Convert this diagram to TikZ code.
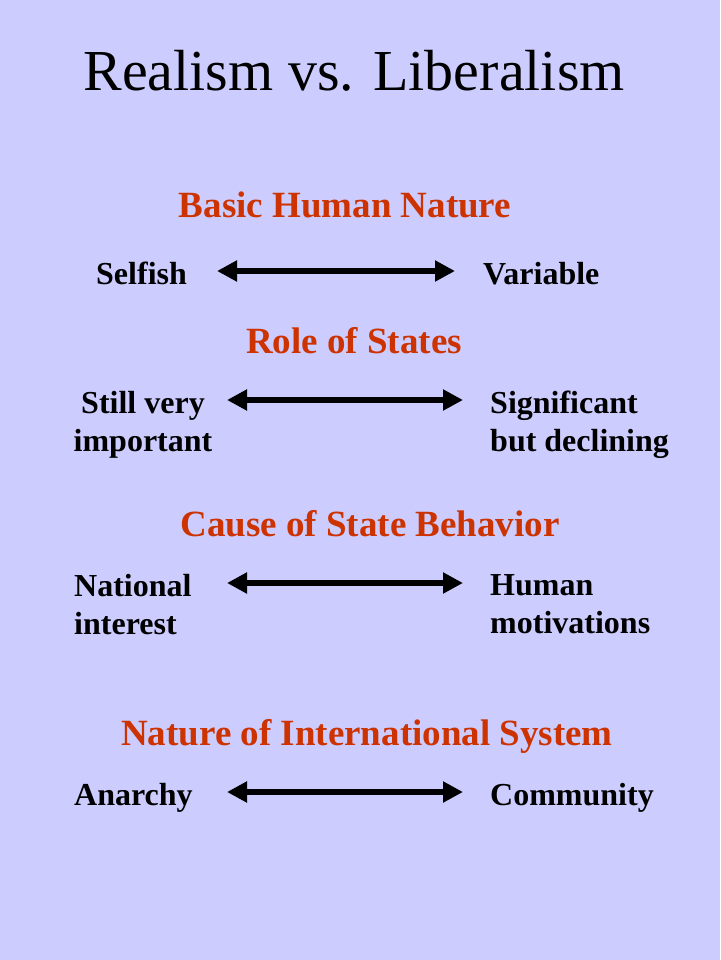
\documentclass[tikz,border=0pt]{standalone}
\usepackage{fontspec}
\setmainfont{Liberation Serif}
\usetikzlibrary{arrows.meta}
\definecolor{bg}{HTML}{CCCCFF}
\definecolor{headred}{HTML}{CC3300}
\begin{document}
\begin{tikzpicture}[x=1pt,y=-1pt,
  title/.style={anchor=base,font=\fontsize{58}{66}\selectfont,inner sep=0},
  head/.style={anchor=base,font=\fontsize{37}{44}\selectfont\bfseries,text=headred,inner sep=0},
  body/.style={anchor=base west,font=\fontsize{32}{38}\selectfont\bfseries,inner sep=0},
  twobody/.style={font=\fontsize{32}{38}\selectfont\bfseries,inner sep=0},
  twoarrow/.style={line width=6pt,{Triangle[length=20pt,width=20pt]}-{Triangle[length=20pt,width=20pt]}}]
\fill[bg] (0,0) rectangle (720,960);
\useasboundingbox (0,0) rectangle (720,960);
\node[title] (t) at (354,91) {Realism vs. Liberalism};
% row 1
\node[head] (h1) at (345,217) {Basic Human Nature};
\node[body] (l1) at (96,284) {Selfish};
\node[body] (r1) at (483,284) {Variable};
\coordinate (a1) at (217,271);
\coordinate (b1) at (455,271);
\draw[twoarrow] (a1) -- (b1);
% row 2
\node[head] (h2) at (354,353) {Role of States};
\node[twobody,anchor=north,align=center] (l2) at (143,391) {Still very\\important};
\node[twobody,anchor=north west,align=left] (r2) at (490,391) {Significant\\but declining};
\coordinate (a2) at (227,400);
\coordinate (b2) at (463,400);
\draw[twoarrow] (a2) -- (b2);
% row 3
\node[head] (h3) at (370,536) {Cause of State Behavior};
\node[twobody,anchor=north west,align=left] (l3) at (74,574) {National\\interest};
\node[twobody,anchor=north west,align=left] (r3) at (490,574) {Human\\motivations};
\coordinate (a3) at (227,583);
\coordinate (b3) at (463,583);
\draw[twoarrow] (a3) -- (b3);
% row 4
\node[head] (h4) at (367,745) {Nature of International System};
\node[body] (l4) at (74,805) {Anarchy};
\node[body] (r4) at (490,805) {Community};
\coordinate (a4) at (227,792);
\coordinate (b4) at (463,792);
\draw[twoarrow] (a4) -- (b4);
\end{tikzpicture}
\end{document}
